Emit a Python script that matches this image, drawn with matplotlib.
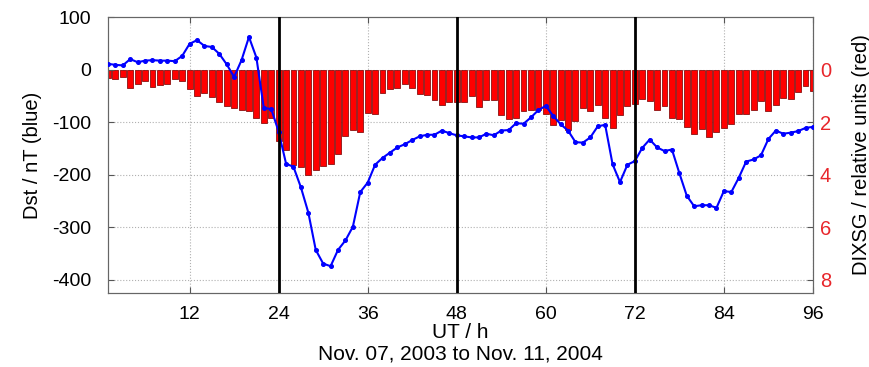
import numpy as np
import matplotlib
matplotlib.use("Agg")
import matplotlib.pyplot as plt

plt.rcParams['font.family'] = ['Liberation Sans', 'DejaVu Sans']
plt.rcParams['axes.unicode_minus'] = False

# hourly UT, 1..96
hours = np.arange(1, 97)

# Dst index in nT (blue)
dst = [11, 9, 8, 20, 14, 17, 18, 17, 17, 16,
       26, 49, 56, 45, 43, 30, 10, -14, 18, 62,
       23, -73, -75, -118, -179, -185, -224, -272, -343, -369,
       -374, -343, -325, -299, -233, -215, -181, -168, -158, -148,
       -142, -134, -127, -124, -124, -116, -121, -125, -127, -129,
       -129, -122, -125, -116, -115, -102, -103, -91, -77, -69,
       -88, -104, -116, -138, -139, -129, -108, -105, -180, -214,
       -181, -174, -149, -133, -148, -155, -152, -197, -240, -260,
       -258, -258, -263, -231, -233, -206, -175, -171, -163, -132,
       -116, -122, -120, -117, -111, -109]

# DIXSG in relative units (red bars)
dixsg = [0.32, 0.36, 0.27, 0.71, 0.54, 0.45, 0.66, 0.57, 0.55, 0.36,
         0.42, 0.74, 1.02, 0.89, 1.05, 1.23, 1.38, 1.45, 1.52, 1.57,
         1.83, 2.03, 1.86, 2.70, 3.05, 3.62, 3.70, 4.00, 3.81, 3.66,
         3.58, 3.22, 2.54, 2.29, 2.39, 1.65, 1.68, 0.89, 0.74, 0.70,
         0.55, 0.70, 0.93, 0.95, 1.17, 1.34, 1.23, 1.22, 1.24, 1.02,
         1.44, 1.17, 1.17, 1.73, 1.87, 1.84, 1.59, 1.54, 1.53, 1.70,
         2.12, 1.91, 2.30, 1.97, 1.46, 1.59, 1.34, 1.84, 2.22, 1.72,
         1.40, 1.30, 1.10, 1.19, 1.55, 1.40, 1.84, 1.88, 2.20, 2.46,
         2.25, 2.57, 2.38, 2.21, 2.08, 1.69, 1.69, 1.55, 1.19, 1.59,
         1.35, 1.08, 1.10, 0.87, 0.64, 0.81]

xticks = [12, 24, 36, 48, 60, 72, 84, 96]
day_marks = [24, 48, 72]

fig = plt.figure(figsize=(8.7, 3.67), dpi=100)
ax1 = fig.add_axes([0.1241, 0.2016, 0.8103, 0.752])
ax2 = ax1.twinx()

# bars go underneath the Dst curve
ax2.set_zorder(0)
ax1.set_zorder(1)
ax1.patch.set_visible(False)
ax2.patch.set_visible(True)
ax2.patch.set_facecolor('white')

ax2.bar(hours, dixsg, width=0.8, color='#ff0000', edgecolor='#8b1010',
        linewidth=0.6, zorder=2)
ax2.set_ylim(8.5, -2)
ax2.set_yticks([0, 2, 4, 6, 8])
ax2.tick_params(axis='y', colors='#e8262b', labelsize=14.5, direction='in',
                length=4, pad=5)
ax2.tick_params(axis='y', color='#555555')
ax2.set_ylabel('DIXSG / relative units (red)', fontsize=14.5, labelpad=15)

# grid lives on the lower axes so it stays behind the bars
ax2.xaxis.set_visible(True)
ax2.tick_params(axis='x', bottom=False, top=False, labelbottom=False)
ax2.set_xticks(xticks)
ax2.grid(True, linestyle=':', color='#b0b0b0', linewidth=0.8, zorder=0)
ax2.set_axisbelow(True)

ax1.plot(hours, dst, color='#0000ff', linewidth=1.5, marker='o',
         markersize=2.6, zorder=3)
for d in day_marks:
    ax1.axvline(d, color='black', linewidth=2, zorder=4)

ax1.set_xlim(1, 96)
ax1.set_ylim(-425, 100)
ax1.set_xticks(xticks)
ax1.set_yticks([-400, -300, -200, -100, 0, 100])
ax1.tick_params(axis='both', labelsize=14, direction='in', length=4,
                color='#555555', top=True)
ax1.tick_params(axis='x', pad=9)
ax1.tick_params(axis='y', pad=12)
ax1.set_ylabel('Dst / nT (blue)', fontsize=14.5, labelpad=7)
ax1.set_xlabel('UT / h\nNov. 07, 2003 to Nov. 11, 2004', fontsize=15,
               labelpad=0, linespacing=1.2)

for ax in (ax1, ax2):
    for sp in ax.spines.values():
        sp.set_color('#666666')
        sp.set_linewidth(0.8)

fig.savefig('out.png', dpi=100)
